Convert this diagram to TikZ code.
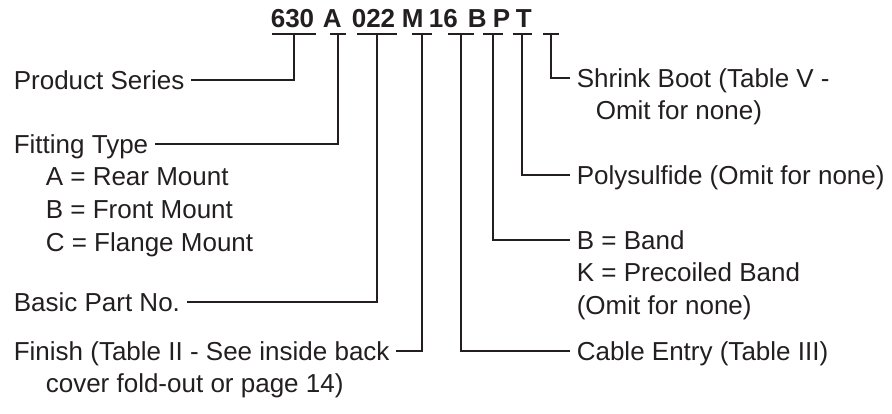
\documentclass[tikz,border=0pt]{standalone}
\usepackage{fontspec}
\setmainfont{Liberation Sans}
\usetikzlibrary{positioning}
\definecolor{ink}{HTML}{231F20}

\begin{document}
\begin{tikzpicture}[x=1pt, y=-1pt, line width=1.6pt, color=ink]
    \tikzstyle{lbl} = [font=\fontsize{26}{31}\selectfont, inner xsep=6pt, inner ysep=0pt, text height=18.6pt, text depth=0pt]
    \tikzstyle{code} = [font=\fontsize{26}{30}\selectfont\bfseries, inner sep=0pt, anchor=base west]

    \useasboundingbox (0,0) rectangle (892,414);

    % part number
    \node[code] (c630) at (270,28) {630};
    \node[code] (cA) at (322,28) {A};
    \node[code] (c022) at (351,28) {022};
    \node[code] (cM) at (401,28) {M};
    \node[code] (c16) at (428,28) {16};
    \node[code] (cB) at (467,28) {B};
    \node[code] (cP) at (492,28) {P};
    \node[code] (cT) at (515,28) {T};

    % underlines
    \foreach \n/\x/\w in {u1/294/22, u2/338/8, u3/377/20, u4/422/10, u5/461/13, u6/493/10, u7/522/9.5, u8/551/8}
    {
        \coordinate (\n) at (\x,34);
        \draw ([xshift=-\w*1pt]\n) -- ([xshift=\w*1pt]\n);
    }

    % left side
    \node[lbl, anchor=west] (prod) at (7,80) {Product Series};
    \node[lbl, anchor=west] (fit) at (7,144) {Fitting Type};
    \node[lbl, below right=12.4pt and 32pt of fit.south west] (fitA) {A = Rear Mount};
    \node[lbl, below=12.4pt of fitA.south west, anchor=north west] (fitB) {B = Front Mount};
    \node[lbl, below=12.4pt of fitB.south west, anchor=north west] (fitC) {C = Flange Mount};
    \node[lbl, anchor=west] (basic) at (7,302) {Basic Part No.};
    \node[lbl, anchor=west] (finish) at (7,351) {Finish (Table II - See inside back};
    \node[lbl, below right=12.4pt and 32pt of finish.south west] (finish2) {cover fold-out or page 14)};

    % right side
    \node[lbl, anchor=west] (shrink) at (570,78) {Shrink Boot (Table V -};
    \node[lbl, below right=12.4pt and 19pt of shrink.south west] (shrink2) {Omit for none)};
    \node[lbl, anchor=west] (poly) at (570,175) {Polysulfide (Omit for none)};
    \node[lbl, anchor=west] (band) at (570,240) {B = Band};
    \node[lbl, below=12.4pt of band.south west, anchor=north west] (band2) {K = Precoiled Band};
    \node[lbl, below=12.4pt of band2.south west, anchor=north west] (band3) {(Omit for none)};
    \node[lbl, anchor=west] (cable) at (570,351) {Cable Entry (Table III)};

    % leaders
    \draw (u1) |- (prod);
    \draw (u2) |- (fit);
    \draw (u3) |- (basic);
    \draw (u4) |- (finish);
    \draw (u5) |- (cable);
    \draw (u6) |- (band);
    \draw (u7) |- (poly);
    \draw (u8) |- (shrink);
\end{tikzpicture}
\end{document}
